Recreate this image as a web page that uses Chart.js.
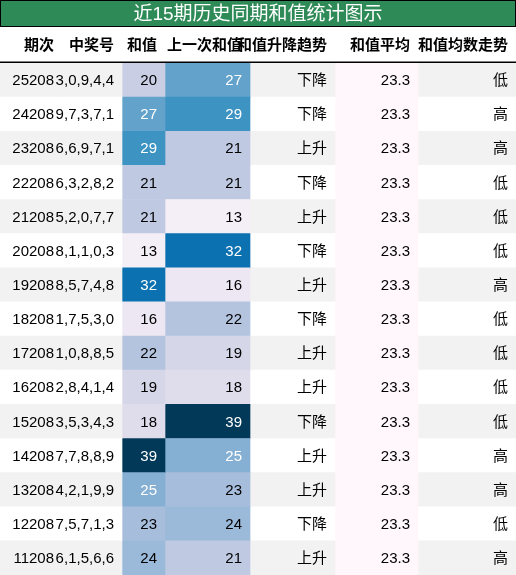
<!DOCTYPE html>
<html><head><meta charset="utf-8">
<script src="https://cdn.jsdelivr.net/npm/chart.js@4"></script>
<style>html,body{margin:0;padding:0;background:#fff}#w{width:516px;height:575px}</style>
</head><body><div id="w"><canvas id="c"></canvas></div>
<script>
const title = '近15期历史同期和值统计图示';
const headers = ['期次','中奖号','和值','上一次和值','和值升降趋势','和值平均','和值均数走势'];
const periods = ['25208','24208','23208','22208','21208','20208','19208','18208','17208','16208','15208','14208','13208','12208','11208'];
const numbers = ['3,0,9,4,4','9,7,3,7,1','6,6,9,7,1','6,3,2,8,2','5,2,0,7,7','8,1,1,0,3','8,5,7,4,8','1,7,5,3,0','1,0,8,8,5','2,8,4,1,4','3,5,3,4,3','7,7,8,8,9','4,2,1,9,9','7,5,7,1,3','6,1,5,6,6'];
const sums = [20,27,29,21,21,13,32,16,22,19,18,39,25,23,24];
const prevSums = [27,29,21,21,13,32,16,22,19,18,39,25,23,24,21];
const trends = ['下降','下降','上升','下降','上升','下降','上升','下降','上升','上升','下降','上升','上升','下降','上升'];
const avgs = [23.3,23.3,23.3,23.3,23.3,23.3,23.3,23.3,23.3,23.3,23.3,23.3,23.3,23.3,23.3];
const levels = ['低','高','高','低','低','低','高','低','低','低','低','高','高','低','高'];

const edges = [0,62,122,165,250,335,418,516];
const palette = {13:'#f4eef6',16:'#ece7f2',18:'#dfdcec',19:'#d6d6e9',20:'#c9cee4',21:'#bfc9e2',22:'#b4c4df',23:'#a6bddb',24:'#9bb9d9',25:'#86b0d3',27:'#62a2cb',29:'#3d93c2',32:'#0b71b0',39:'#023858'};
const rowBg = i => i%2===0 ? '#f2f2f2' : '#ffffff';
const cols = [periods, numbers, sums, prevSums, trends, avgs, levels];

const datasets = cols.map((col,ci)=>({
  data: periods.map(()=>[edges[ci],edges[ci+1]]),
  backgroundColor: periods.map((_,ri)=>{
    if(ci===2) return palette[sums[ri]];
    if(ci===3) return palette[prevSums[ri]];
    if(ci===5) return '#fff7fb';
    return rowBg(ri);
  }),
  borderWidth:0, barPercentage:1, categoryPercentage:1, grouped:false
}));

const textPlugin = {
  id:'txt',
  afterDraw(chart){
    const ctx = chart.ctx, ca = chart.chartArea;
    ctx.save();
    // title bar
    ctx.fillStyle='#2e8b57'; ctx.fillRect(0,0,516,27);
    ctx.strokeStyle='#000'; ctx.lineWidth=1; ctx.strokeRect(0.5,0.5,515,26);
    ctx.fillStyle='#fff'; ctx.font='19px "Liberation Sans","Noto Sans CJK SC"';
    ctx.textAlign='center'; ctx.textBaseline='middle';
    ctx.fillText(title,258,15);
    // header
    ctx.fillStyle='#000'; ctx.font='bold 15px "Liberation Sans","Noto Sans CJK SC"';
    ctx.textAlign='right';
    headers.forEach((h,ci)=>ctx.fillText(h,edges[ci+1]-8,(27+ca.top)/2+1));
    ctx.fillRect(0,ca.top-1.5,516,1.5);
    // cells
    ctx.font='15px "Liberation Sans","Noto Sans CJK SC"';
    cols.forEach((col,ci)=>{
      const meta = chart.getDatasetMeta(ci);
      meta.data.forEach((bar,ri)=>{
        let v = col[ri];
        let white = (ci===2||ci===3) && v>=25;
        ctx.fillStyle = white ? '#fff' : '#000';
        if(ci===5) v = v.toFixed(1);
        ctx.fillText(String(v), edges[ci+1]-8, bar.y+1);
      });
    });
    ctx.restore();
  }
};

new Chart(document.getElementById('c'),{
  type:'bar',
  data:{labels:periods,datasets},
  options:{
    indexAxis:'y', responsive:true, maintainAspectRatio:false, animation:false,
    layout:{padding:{top:63,left:0,right:0,bottom:0}},
    plugins:{legend:{display:false},tooltip:{enabled:false}},
    scales:{
      x:{type:'linear',min:0,max:516,display:false},
      y:{display:false,offset:true}
    }
  },
  plugins:[textPlugin]
});
</script></body></html>
